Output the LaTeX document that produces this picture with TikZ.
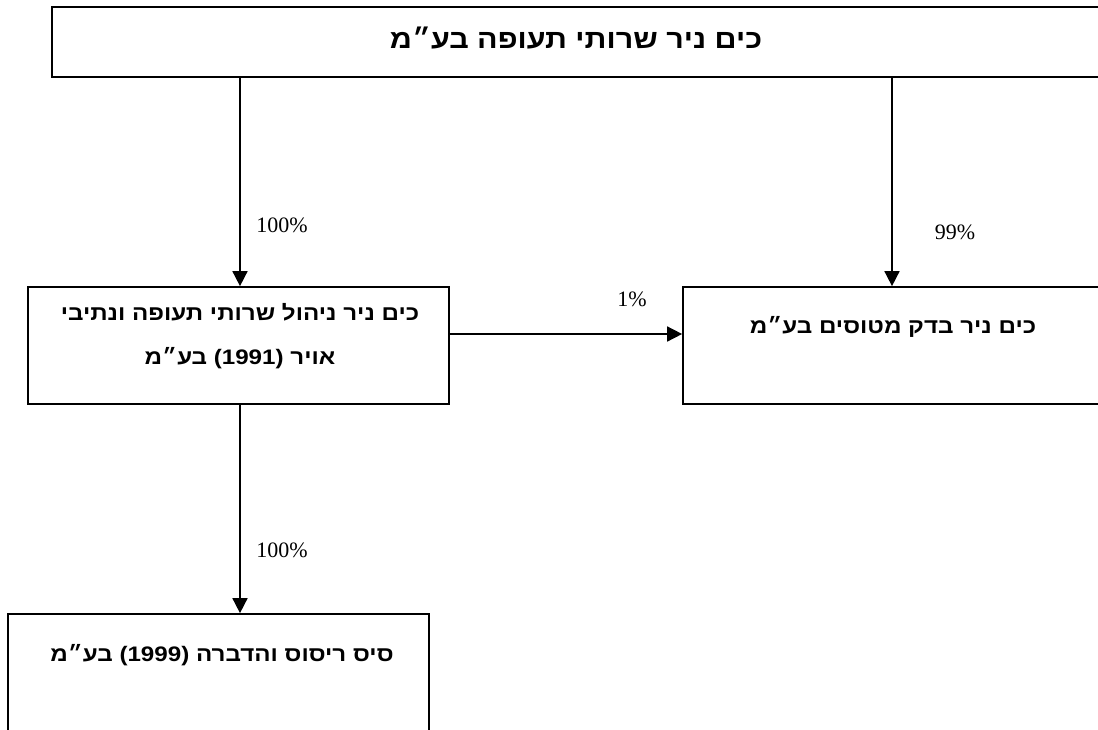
\documentclass[tikz,border=0pt]{standalone}
\usepackage{fontspec}
\setmainfont{Liberation Serif}
\newfontfamily\hebfont[Script=Hebrew,FakeStretch=1.15]{Liberation Sans}
\TeXXeTstate=1
\usetikzlibrary{arrows.meta}
\begin{document}
\begin{tikzpicture}[x=1pt,y=-1pt,
  box/.style={draw=black,line width=1.7pt,rectangle,inner sep=0pt},
  conn/.style={line width=1.6pt,-{Triangle[length=15pt,width=15pt]}},
  heb/.style={font=\hebfont\bfseries\fontsize{21}{46}\selectfont,inner sep=0pt,align=center},
  pct/.style={font=\fontsize{22}{24}\selectfont,inner sep=0pt}]
\useasboundingbox (0,0) rectangle (1098,729);
\clip (0,0) rectangle (1098,729);
\node[box,minimum width=1048pt,minimum height=70pt] (top) at (576,42) {};
\node[box,minimum width=421pt,minimum height=117pt] (b2) at (238.5,345.5) {};
\node[box,minimum width=417pt,minimum height=117pt] (b3) at (891.5,345.5) {};
\node[box,minimum width=421pt,minimum height=132pt] (b4) at (218.5,680) {};
\node[heb,font=\hebfont\bfseries\fontsize{26.5}{30}\selectfont] (t1) at (576,38) {\beginR כים ניר שרותי תעופה בע״מ\endR};
\node[heb] (t2a) at (240,312) {\beginR כים ניר ניהול שרותי תעופה ונתיבי\endR};
\node[heb] (t2b) at (240,358) {\beginR אויר \beginL(1991)\endL{} בע״מ\endR};
\node[heb] (t3) at (893,327) {\beginR כים ניר בדק מטוסים בע״מ\endR};
\node[heb] (t4) at (222,655) {\beginR סיס ריסוס והדברה \beginL(1999)\endL{} בע״מ\endR};
\coordinate (s1) at (240,77);
\coordinate (s2) at (892,77);
\coordinate (h1) at (449,334);
\draw[conn] (s1) -- (s1 |- b2.north);
\draw[conn] (s2) -- (s2 |- b3.north);
\draw[conn] (h1) -- (h1 -| b3.west);
\draw[conn] (s1 |- b2.south) -- (s1 |- b4.north);
\node[pct] (p1) at (282,225) {100\%};
\node[pct] (p2) at (955,232) {99\%};
\node[pct] (p3) at (632,299) {1\%};
\node[pct] (p4) at (282,550) {100\%};
\end{tikzpicture}
\end{document}
